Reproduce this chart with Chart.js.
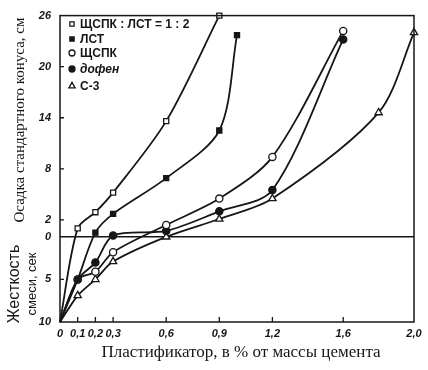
<!DOCTYPE html>
<html>
<head>
<meta charset="utf-8">
<script src="https://cdn.jsdelivr.net/npm/chart.js@4"></script>
<style>
  html, body { margin: 0; padding: 0; background: #fff; }
  #wrap { width: 428px; height: 370px; position: relative; }
</style>
</head>
<body>
<div id="wrap"><canvas id="chart"></canvas></div>
<script>
// axis ticks (the lower part of y is "Жесткость", plotted as negative seconds)
const xTicks = [0, 0.1, 0.2, 0.3, 0.6, 0.9, 1.2, 1.6, 2.0];
const xTickLabels = ['0', '0,1', '0,2', '0,3', '0,6', '0,9', '1,2', '1,6', '2,0'];
const yTicks = [-10, -5, 0, 2, 8, 14, 20, 26];
const yTickLabels = ['10', '5', '0', '2', '8', '14', '20', '26'];

// series
const mixX = [0, 0.1, 0.2, 0.3, 0.6, 0.9];
const mixY = [-10, 1, 2.9, 5.2, 13.6, 26];
const lstX = [0, 0.1, 0.2, 0.3, 0.6, 0.9, 1.0];
const lstY = [-10, -5, 0.5, 2.7, 6.9, 12.5, 23.7];
const shchX = [0, 0.1, 0.2, 0.3, 0.6, 0.9, 1.2, 1.6];
const shchY = [-10, -5, -4.1, -1.8, 1.4, 4.5, 9.4, 24.2];
const dofenX = [0, 0.1, 0.2, 0.3, 0.6, 0.9, 1.2, 1.6];
const dofenY = [-10, -5, -3, 0.15, 0.7, 3.0, 5.5, 23.2];
const c3X = [0, 0.1, 0.2, 0.3, 0.6, 0.9, 1.2, 1.8, 2.0];
const c3Y = [-10, -6.9, -5, -2.9, 0, 2.1, 4.5, 14.6, 24.0];

const legendNames = ['ЩСПК : ЛСТ = 1 : 2', 'ЛСТ', 'ЩСПК', 'дофен', 'С-3'];

const ink = '#161616';

function pts(xs, ys) {
  return xs.map((x, i) => ({ x: x, y: ys[i] }));
}

function series(label, xs, ys, style, filled) {
  return {
    label: label,
    data: pts(xs, ys),
    borderColor: ink,
    borderWidth: 1.8,
    tension: 0.3,
    pointStyle: style,
    pointRadius: c => (c.raw && c.raw.x === 0 ? 0 : (style === 'triangle' ? 4.2 : 3.6)),
    pointBorderColor: ink,
    pointBorderWidth: 1.3,
    pointBackgroundColor: filled ? ink : '#fff',
    clip: 8
  };
}

const datasets = [
  series(legendNames[0], mixX, mixY, 'rect', false),
  series(legendNames[1], lstX, lstY, 'rect', true),
  series(legendNames[2], shchX, shchY, 'circle', false),
  series(legendNames[3], dofenX, dofenY, 'circle', true),
  series(legendNames[4], c3X, c3Y, 'triangle', false)
];

const decor = {
  id: 'decor',
  afterDatasetsDraw(chart) {
    const { ctx, chartArea: a, scales } = chart;
    const x = scales.x, y = scales.y;
    ctx.save();
    ctx.strokeStyle = ink;
    ctx.fillStyle = ink;

    // frame
    ctx.lineWidth = 1.5;
    ctx.strokeRect(a.left, a.top, a.right - a.left, a.bottom - a.top);

    // inward tick marks
    ctx.lineWidth = 1.3;
    ctx.beginPath();
    xTicks.forEach(v => {
      if (v === 0 || v === 2) return;
      const px = x.getPixelForValue(v);
      ctx.moveTo(px, a.bottom);
      ctx.lineTo(px, a.bottom - 5);
    });
    yTicks.forEach(v => {
      if (v === -10 || v === 26 || v === 0) return;
      const py = y.getPixelForValue(v);
      ctx.moveTo(a.left, py);
      ctx.lineTo(a.left + 4, py);
    });
    ctx.stroke();

    // legend inside the plot
    const rows = [24, 39, 53, 69, 86];
    ctx.textBaseline = 'middle';
    ctx.textAlign = 'left';
    datasets.forEach((d, i) => {
      ctx.fillStyle = d.pointBackgroundColor;
      ctx.strokeStyle = ink;
      ctx.lineWidth = 1.3;
      Chart.helpers.drawPoint(ctx, {
        pointStyle: d.pointStyle,
        radius: d.pointStyle === 'triangle' ? 3.6 : 3,
        borderWidth: 1.3,
        rotation: 0
      }, 72, rows[i]);
      ctx.fillStyle = ink;
      ctx.font = (i === 3 ? 'italic ' : '') + 'bold 12px "Liberation Sans", Arial, sans-serif';
      ctx.fillText(d.label, 80, rows[i] + 1);
    });

    // axis titles
    ctx.fillStyle = ink;
    ctx.textAlign = 'center';
    ctx.textBaseline = 'middle';
    ctx.font = '17px "Liberation Serif", "Times New Roman", serif';
    ctx.fillText('Пластификатор, в % от массы цемента', 241, 353);

    ctx.save();
    ctx.translate(20, 120);
    ctx.rotate(-Math.PI / 2);
    ctx.font = '15px "Liberation Serif", "Times New Roman", serif';
    ctx.fillText('Осадка стандартного конуса, см', 0, 0);
    ctx.restore();

    ctx.save();
    ctx.translate(15, 284);
    ctx.rotate(-Math.PI / 2);
    ctx.font = '16px "Liberation Sans", Arial, sans-serif';
    ctx.fillText('Жесткость', 0, 0);
    ctx.font = '13px "Liberation Sans", Arial, sans-serif';
    ctx.fillText('смеси, сек', 0, 17);
    ctx.restore();

    ctx.restore();
  }
};

new Chart(document.getElementById('chart'), {
  type: 'line',
  data: { datasets: datasets },
  plugins: [decor],
  options: {
    responsive: true,
    maintainAspectRatio: false,
    animation: false,
    layout: { padding: { left: 0, right: 14, top: 11, bottom: 0 } },
    plugins: { legend: { display: false }, tooltip: { enabled: false } },
    scales: {
      x: {
        type: 'linear',
        min: 0,
        max: 2.0,
        afterBuildTicks: s => { s.ticks = xTicks.map(v => ({ value: v })); },
        afterFit: s => { s.height = 48; },
        border: { display: false },
        grid: { drawOnChartArea: false, drawTicks: false },
        ticks: {
          autoSkip: false,
          maxRotation: 0,
          padding: 5,
          color: ink,
          font: { family: '"Liberation Sans", Arial, sans-serif', size: 11, style: 'italic', weight: 'bold' },
          callback: (v, i) => xTickLabels[i]
        }
      },
      y: {
        type: 'linear',
        min: -10,
        max: 26,
        afterBuildTicks: s => { s.ticks = yTicks.map(v => ({ value: v })); },
        afterFit: s => { s.width = 60; },
        border: { display: false },
        grid: {
          drawTicks: false,
          lineWidth: 1.4,
          color: c => (c.tick && c.tick.value === 0 ? ink : 'rgba(0,0,0,0)')
        },
        ticks: {
          autoSkip: false,
          padding: 9,
          color: ink,
          font: { family: '"Liberation Sans", Arial, sans-serif', size: 11, style: 'italic', weight: 'bold' },
          callback: (v, i) => yTickLabels[i]
        }
      }
    }
  }
});
</script>
</body>
</html>
